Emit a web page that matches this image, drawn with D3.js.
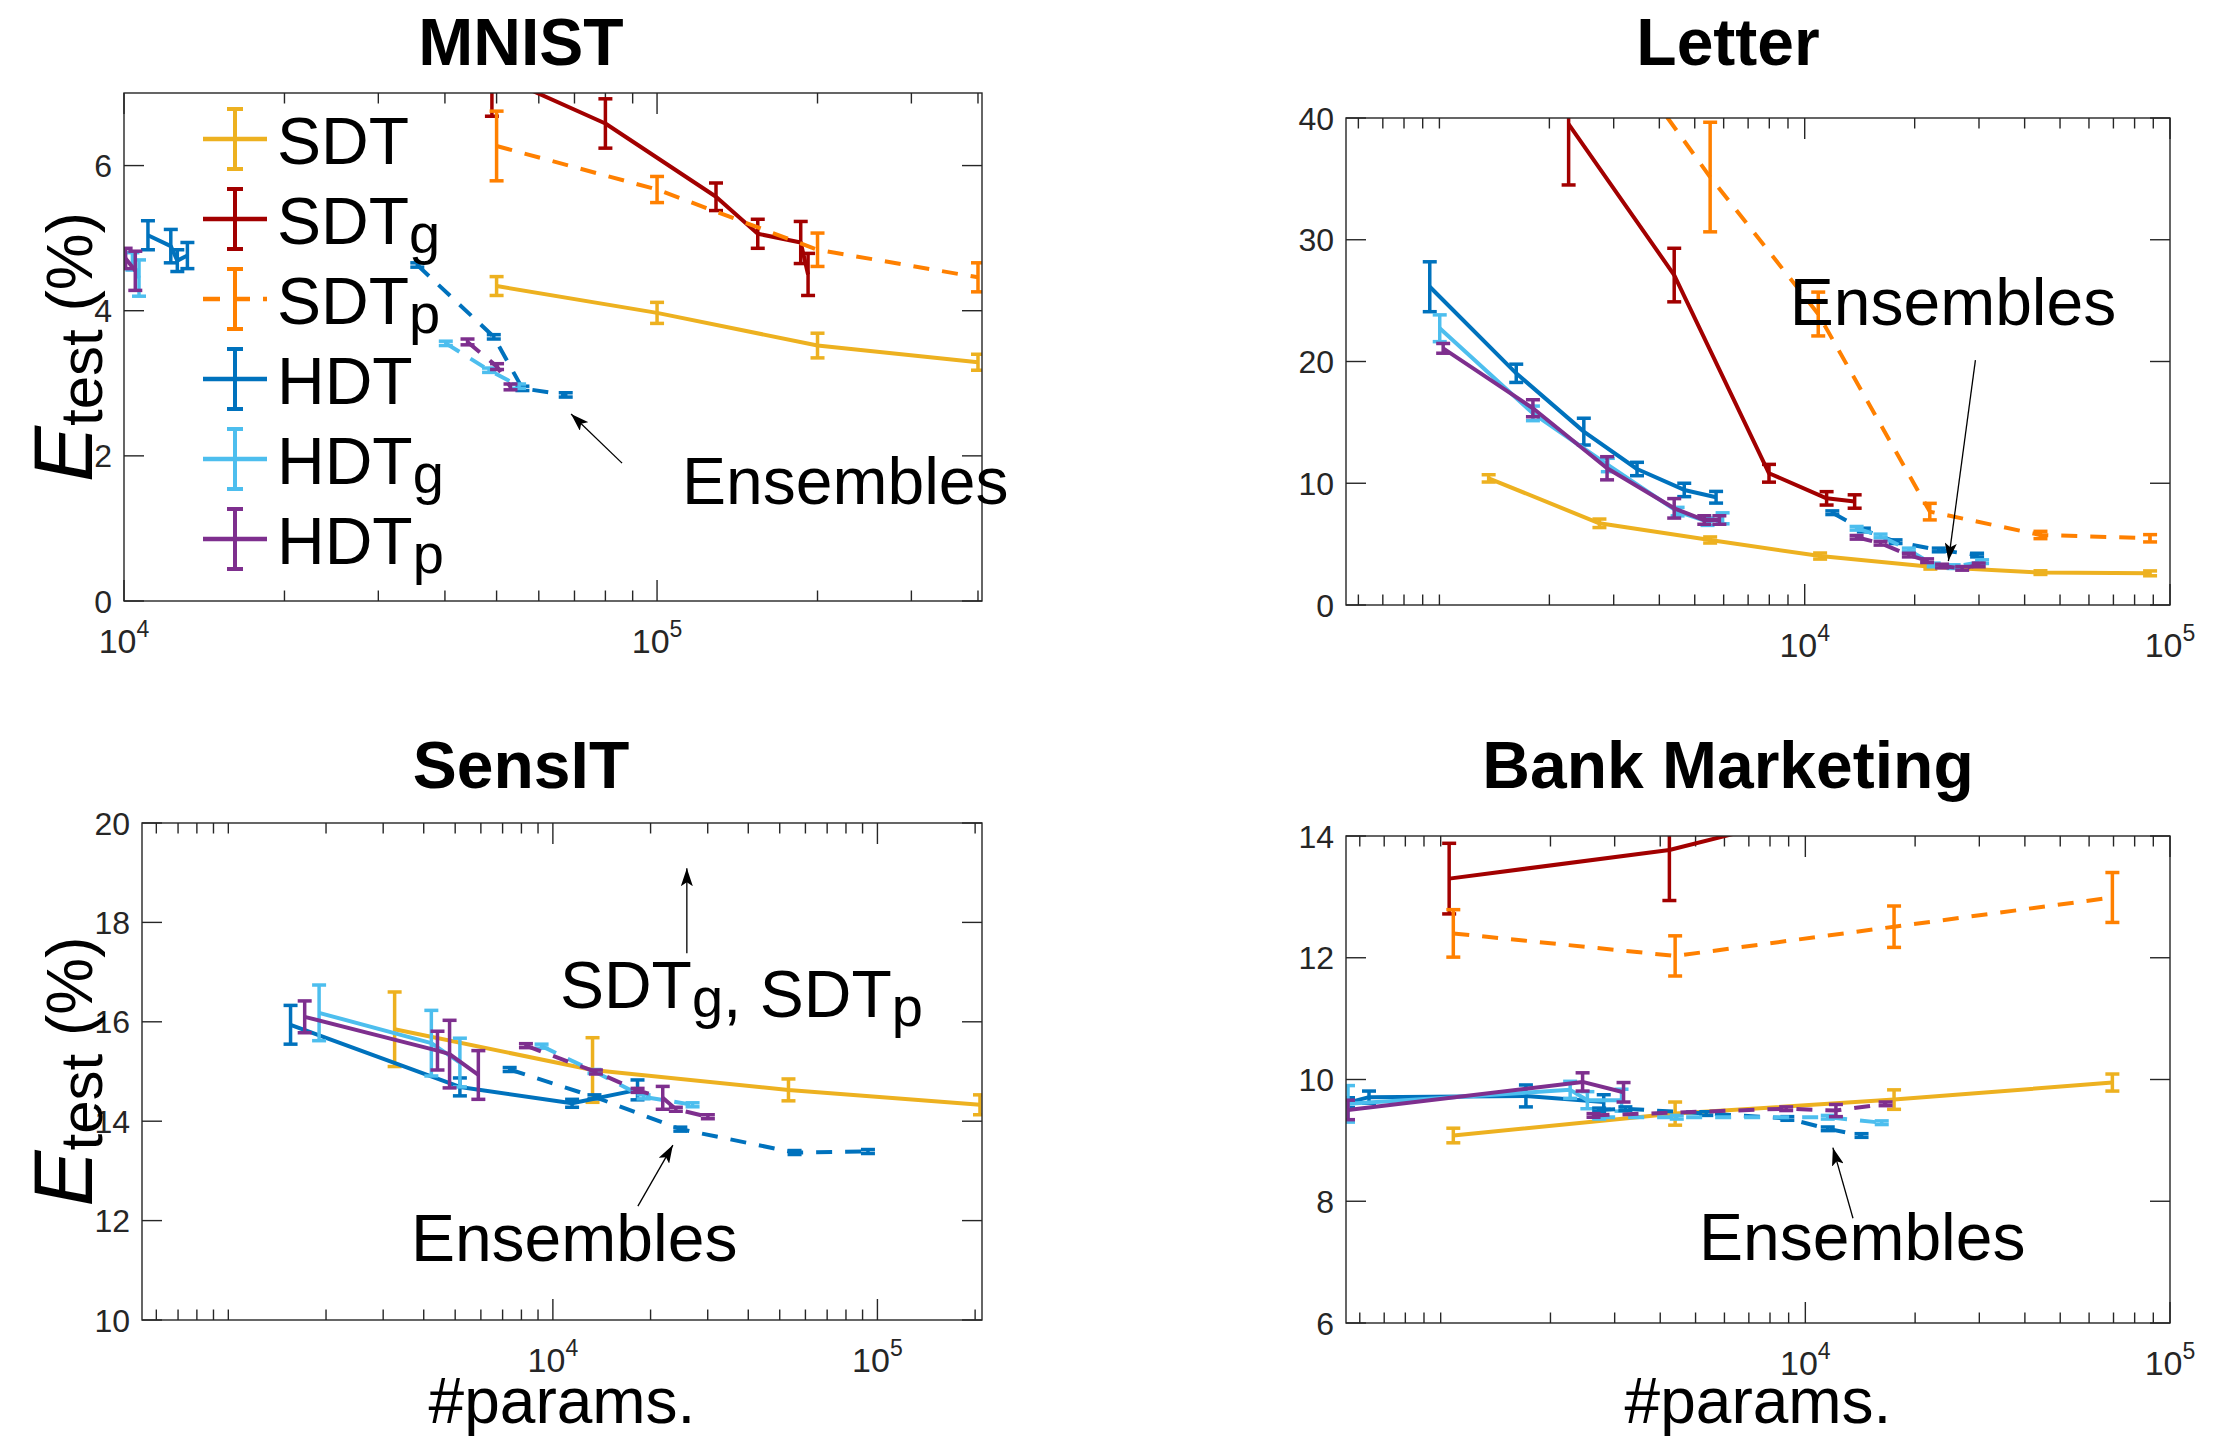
<!DOCTYPE html>
<html>
<head>
<meta charset="utf-8">
<script src="https://cdn.jsdelivr.net/npm/d3@7"></script>
<style>
body { margin: 0; background: #fff; }
text { font-family: "Liberation Sans", Arial, Helvetica, sans-serif; }
</style>
</head>
<body>
<div id="chart"></div>
<script>
// each point: [#params, test error %, half error bar]
var mnistSDT  = [[5e4, 4.34, 0.13], [1e5, 3.97, 0.145], [2e5, 3.52, 0.17], [4e5, 3.29, 0.11]];
var mnistSDTg = [[4.9e4, 7.28, 0.6], [8.0e4, 6.58, 0.34], [1.29e5, 5.57, 0.19], [1.545e5, 5.06, 0.2], [1.86e5, 4.94, 0.29], [1.92e5, 4.5, 0.29]];
var mnistSDTp = [[5e4, 6.27, 0.48], [1e5, 5.67, 0.18], [2e5, 4.84, 0.23], [4e5, 4.46, 0.2]];
var mnistHDT  = [[11090, 5.04, 0.2], [12240, 4.89, 0.23], [12590, 4.69, 0.15], [13150, 4.76, 0.18]];
var mnistHDTg = [[10370, 4.68, 0.12], [10670, 4.45, 0.25]];
var mnistHDTp = [[10070, 4.72, 0.14], [10500, 4.55, 0.27]];
var mnistEnsHDT  = [[35500, 4.63, 0.03], [49400, 3.64, 0.03], [55900, 2.93, 0.03], [67400, 2.84, 0.03]];
var mnistEnsHDTg = [[40150, 3.55, 0.03], [48400, 3.18, 0.03], [55100, 2.96, 0.03]];
var mnistEnsHDTp = [[44100, 3.57, 0.04], [50100, 3.23, 0.04], [53100, 2.95, 0.04]];

var letterSDT  = [[1364, 10.4, 0.3], [2742, 6.71, 0.35], [5510, 5.34, 0.25], [11020, 4.02, 0.25], [22080, 3.15, 0.2], [44200, 2.66, 0.15], [88200, 2.6, 0.2]];
var letterSDTg = [[2258, 39.5, 5], [4393, 27.1, 2.2], [7985, 10.82, 0.73], [11480, 8.76, 0.55], [13700, 8.5, 0.55]];
var letterSDTp = [[2742, 47.8, 5], [5510, 35.15, 4.5], [10890, 23.9, 1.8], [22000, 7.67, 0.68], [44200, 5.75, 0.3], [88200, 5.48, 0.3]];
var letterHDT  = [[941, 26.14, 2.05], [1623, 19.03, 0.75], [2485, 14.24, 1.1], [3475, 11.17, 0.55], [4680, 9.45, 0.55], [5720, 8.85, 0.48]];
var letterHDTg = [[1002, 22.73, 1.1], [1803, 15.74, 0.6], [2891, 11.5, 0.55], [4488, 7.67, 0.35], [5420, 6.84, 0.3], [5960, 7.12, 0.45]];
var letterHDTp = [[1024, 21.08, 0.4], [1803, 16.16, 0.7], [2877, 11.23, 0.95], [4393, 7.94, 0.8], [5310, 6.98, 0.35], [5840, 6.98, 0.35]];
var letterEnsHDT  = [[11900, 7.58, 0.15], [14520, 6.16, 0.15], [17730, 5.2, 0.15], [23280, 4.52, 0.15], [29640, 4.1, 0.15]];
var letterEnsHDTg = [[13870, 6.3, 0.15], [16130, 5.67, 0.15], [19280, 4.52, 0.15], [22550, 3.29, 0.15], [25570, 3.15, 0.15], [30590, 3.56, 0.15]];
var letterEnsHDTp = [[13870, 5.56, 0.15], [16130, 5.07, 0.15], [19280, 4.1, 0.15], [21630, 3.64, 0.15], [23770, 3.2, 0.15], [26980, 3.01, 0.15], [29950, 3.29, 0.15]];

var sensSDT  = [[3254, 15.85, 0.75], [13250, 15.03, 0.65], [53200, 14.63, 0.22], [207000, 14.33, 0.2]];
var sensHDT  = [[1555, 15.94, 0.39], [5170, 14.69, 0.18], [11460, 14.36, 0.08], [18230, 14.63, 0.2]];
var sensHDTg = [[1904, 16.18, 0.56], [4222, 15.57, 0.66], [5170, 15.18, 0.49]];
var sensHDTp = [[1719, 16.1, 0.32], [4410, 15.42, 0.39], [4805, 15.35, 0.68], [5893, 14.93, 0.49]];
var sensEnsHDT  = [[7360, 15.04, 0.04], [13430, 14.49, 0.04], [24700, 13.84, 0.04], [55550, 13.37, 0.04], [93500, 13.39, 0.04]];
var sensEnsHDTg = [[9230, 15.51, 0.04], [13430, 15.0, 0.04], [19030, 14.49, 0.04], [26940, 14.33, 0.04]];
var sensEnsHDTp = [[8260, 15.52, 0.04], [13570, 14.99, 0.04], [18240, 14.62, 0.04], [21800, 14.47, 0.23], [23930, 14.24, 0.04], [30030, 14.09, 0.04]];

var bankSDT  = [[1083, 9.08, 0.12], [4395, 9.44, 0.19], [17510, 9.67, 0.16], [69500, 9.95, 0.14]];
var bankSDTg = [[1055, 13.3, 0.58], [4238, 13.77, 0.83], [17510, 14.7, 0.6]];
var bankSDTp = [[1083, 12.4, 0.39], [4395, 12.03, 0.33], [17510, 12.51, 0.34], [69500, 12.99, 0.41]];
var bankHDT  = [[557, 9.62, 0.08], [636, 9.71, 0.1], [1713, 9.73, 0.18], [2800, 9.63, 0.12]];
var bankHDTg = [[557, 9.6, 0.3], [2265, 9.83, 0.14], [2525, 9.66, 0.14], [3133, 9.66, 0.18]];
var bankHDTp = [[557, 9.5, 0.16], [2450, 9.96, 0.15], [3173, 9.79, 0.16]];
var bankEnsHDT  = [[2720, 9.5, 0.03], [3210, 9.52, 0.03], [5350, 9.44, 0.03], [8925, 9.36, 0.03], [11520, 9.19, 0.03], [14260, 9.08, 0.03]];
var bankEnsHDTg = [[2720, 9.38, 0.03], [4440, 9.38, 0.03], [11520, 9.38, 0.03], [16200, 9.29, 0.03]];
var bankEnsHDTp = [[2625, 9.41, 0.03], [8860, 9.52, 0.03], [12130, 9.49, 0.1], [16600, 9.6, 0.03]];

var mnistYTicks = [0, 2, 4, 6];
var letterYTicks = [0, 10, 20, 30, 40];
var sensYTicks = [10, 12, 14, 16, 18, 20];
var bankYTicks = [6, 8, 10, 12, 14];
var xLabelTicks = [1e4, 1e5];

var seriesKeys = ["SDT", "SDTg", "SDTp", "HDT", "HDTg", "HDTp"];
var legendLabels = [["SDT", ""], ["SDT", "g"], ["SDT", "p"], ["HDT", ""], ["HDT", "g"], ["HDT", "p"]];
var colors = {SDT: "#edb120", SDTg: "#a20000", SDTp: "#ff8000", HDT: "#0072bd", HDTg: "#4dbeee", HDTp: "#7e2f8e"};
var dashKeys = {SDTp: true};
var DASH = "16,13";
var AXIS = "#262626";

var panels = [
  {title: "MNIST", box: [124, 93, 982, 601], xDomain: [1e4, 4.07e5], yDomain: [0, 7], yTicks: mnistYTicks,
   titlePos: [521, 65], yLabel: true, xLabel: false, legend: true,
   series: {SDT: mnistSDT, SDTg: mnistSDTg, SDTp: mnistSDTp, HDT: mnistHDT, HDTg: mnistHDTg, HDTp: mnistHDTp},
   ens: {HDT: mnistEnsHDT, HDTg: mnistEnsHDTg, HDTp: mnistEnsHDTp},
   arrows: [[[85970, 1.90], [68970, 2.577]]],
   notes: [{at: [111400, 1.337], parts: [["Ensembles", ""]]}]},
  {title: "Letter", box: [1346, 118, 2170, 605], xDomain: [555, 1e5], yDomain: [0, 40], yTicks: letterYTicks,
   titlePos: [1728, 65], yLabel: false, xLabel: false,
   series: {SDT: letterSDT, SDTg: letterSDTg, SDTp: letterSDTp, HDT: letterHDT, HDTg: letterHDTg, HDTp: letterHDTp},
   ens: {HDT: letterEnsHDT, HDTg: letterEnsHDTg, HDTp: letterEnsHDTp},
   arrows: [[[29330, 20.12], [24740, 3.61]]],
   notes: [{at: [9100, 23.0], parts: [["Ensembles", ""]]}]},
  {title: "SensIT", box: [142, 823, 982, 1320], xDomain: [542, 2.1e5], yDomain: [10, 20], yTicks: sensYTicks,
   titlePos: [521, 788], yLabel: true, xLabel: true,
   series: {SDT: sensSDT, HDT: sensHDT, HDTg: sensHDTg, HDTp: sensHDTp},
   ens: {HDT: sensEnsHDT, HDTg: sensEnsHDTg, HDTp: sensEnsHDTp},
   arrows: [[[25870, 17.38], [25870, 19.09]], [[18280, 12.29], [23430, 13.52]]],
   notes: [{at: [10510, 16.28], parts: [["SDT", "g"], [", SDT", "p"]]},
           {at: [3652, 11.19], parts: [["Ensembles", ""]]}]},
  {title: "Bank Marketing", box: [1346, 836, 2170, 1323], xDomain: [550, 1e5], yDomain: [6, 14], yTicks: bankYTicks,
   titlePos: [1728, 788], yLabel: false, xLabel: true,
   series: {SDT: bankSDT, SDTg: bankSDTg, SDTp: bankSDTp, HDT: bankHDT, HDTg: bankHDTg, HDTp: bankHDTp},
   ens: {HDT: bankEnsHDT, HDTg: bankEnsHDTg, HDTp: bankEnsHDTp},
   arrows: [[[13510, 7.72], [11900, 8.88]]],
   notes: [{at: [5109, 7.04], parts: [["Ensembles", ""]]}]}
];

var svg = d3.select("#chart").append("svg")
    .attr("width", 2238).attr("height", 1438)
    .style("background", "#fff");

svg.append("defs").append("marker")
    .attr("id", "head")
    .attr("markerUnits", "userSpaceOnUse")
    .attr("markerWidth", 18).attr("markerHeight", 12)
    .attr("refX", 18).attr("refY", 6)
    .attr("orient", "auto")
  .append("path")
    .attr("d", "M0,0L18,6L0,12L4,6Z")
    .attr("fill", "#000");

function richText(sel, parts, size, subSize, subDy) {
  parts.forEach(function(p) {
    sel.append("tspan").attr("font-size", size).attr("dy", 0).text(p[0]);
    if (p[1]) {
      sel.append("tspan").attr("font-size", subSize).attr("dy", subDy).text(p[1]);
      sel.append("tspan").attr("font-size", size).attr("dy", -subDy).text("");
    }
  });
}

function logTicks(domain) {
  var out = [];
  for (var e = Math.floor(Math.log10(domain[0])); e <= Math.ceil(Math.log10(domain[1])); e++) {
    for (var k = 1; k <= 9; k++) {
      var v = k * Math.pow(10, e);
      if (v >= domain[0] * 0.999 && v <= domain[1] * 1.001) out.push(v);
    }
  }
  return out;
}

function drawSeries(g, pts, color, dash, x, y) {
  var line = d3.line().x(function(d) { return x(d[0]); }).y(function(d) { return y(d[1]); });
  g.append("path")
      .attr("d", line(pts))
      .attr("fill", "none")
      .attr("stroke", color)
      .attr("stroke-width", 4)
      .attr("stroke-dasharray", dash ? DASH : null)
      .attr("stroke-linejoin", "round");
  var bars = g.append("g").attr("stroke", color).attr("stroke-width", 3.5);
  pts.forEach(function(d) {
    var cx = x(d[0]), lo = y(d[1] - d[2]), hi = y(d[1] + d[2]);
    bars.append("line").attr("x1", cx).attr("x2", cx).attr("y1", lo).attr("y2", hi);
    bars.append("line").attr("x1", cx - 7).attr("x2", cx + 7).attr("y1", lo).attr("y2", lo);
    bars.append("line").attr("x1", cx - 7).attr("x2", cx + 7).attr("y1", hi).attr("y2", hi);
  });
}

panels.forEach(function(p, i) {
  var left = p.box[0], top = p.box[1], right = p.box[2], bottom = p.box[3];
  var x = d3.scaleLog().domain(p.xDomain).range([left, right]);
  var y = d3.scaleLinear().domain(p.yDomain).range([bottom, top]);
  var g = svg.append("g");

  // title
  g.append("text")
      .attr("x", p.titlePos[0]).attr("y", p.titlePos[1])
      .attr("text-anchor", "middle")
      .attr("font-size", 66).attr("font-weight", "bold")
      .text(p.title);

  // ticks
  var axis = g.append("g").attr("stroke", AXIS).attr("stroke-width", 1.4);
  p.yTicks.forEach(function(t) {
    axis.append("line").attr("x1", left).attr("x2", left + 20).attr("y1", y(t)).attr("y2", y(t));
    axis.append("line").attr("x1", right - 20).attr("x2", right).attr("y1", y(t)).attr("y2", y(t));
    g.append("text")
        .attr("x", left - 12).attr("y", y(t)).attr("dy", "0.36em")
        .attr("text-anchor", "end")
        .attr("font-size", 32).attr("fill", AXIS)
        .text(t);
  });
  logTicks(p.xDomain).forEach(function(t) {
    var major = xLabelTicks.indexOf(t) >= 0;
    var len = major ? 21 : 10.5;
    axis.append("line").attr("x1", x(t)).attr("x2", x(t)).attr("y1", bottom).attr("y2", bottom - len);
    axis.append("line").attr("x1", x(t)).attr("x2", x(t)).attr("y1", top).attr("y2", top + len);
  });
  xLabelTicks.forEach(function(t) {
    if (t < p.xDomain[0] * 0.999 || t > p.xDomain[1] * 1.001) return;
    var lbl = g.append("text")
        .attr("x", x(t)).attr("y", bottom + 52)
        .attr("text-anchor", "middle")
        .attr("fill", AXIS);
    lbl.append("tspan").attr("font-size", 34).text("10");
    lbl.append("tspan").attr("font-size", 23).attr("dy", -16).text(Math.round(Math.log10(t)));
  });

  // data, clipped to the axes box
  g.append("clipPath").attr("id", "clip" + i)
    .append("rect")
      .attr("x", left).attr("y", top)
      .attr("width", right - left).attr("height", bottom - top);
  var plot = g.append("g").attr("clip-path", "url(#clip" + i + ")");
  seriesKeys.forEach(function(k) {
    if (p.series[k]) drawSeries(plot, p.series[k], colors[k], dashKeys[k], x, y);
  });
  ["HDT", "HDTg", "HDTp"].forEach(function(k) {
    drawSeries(plot, p.ens[k], colors[k], true, x, y);
  });

  g.append("rect")
      .attr("x", left).attr("y", top)
      .attr("width", right - left).attr("height", bottom - top)
      .attr("fill", "none").attr("stroke", AXIS).attr("stroke-width", 1.4);

  // annotations
  p.arrows.forEach(function(a) {
    g.append("line")
        .attr("x1", x(a[0][0])).attr("y1", y(a[0][1]))
        .attr("x2", x(a[1][0])).attr("y2", y(a[1][1]))
        .attr("stroke", "#000").attr("stroke-width", 1.3)
        .attr("marker-end", "url(#head)");
  });
  p.notes.forEach(function(n) {
    var t = g.append("text").attr("x", x(n.at[0])).attr("y", y(n.at[1]));
    richText(t, n.parts, 66, 56, 9);
  });

  if (p.yLabel) {
    var cy = (top + bottom) / 2;
    var lab = g.append("text")
        .attr("transform", "translate(92," + cy + ") rotate(-90)")
        .attr("text-anchor", "middle");
    lab.append("tspan").attr("font-size", 84).attr("font-style", "italic").text("E");
    lab.append("tspan").attr("font-size", 60).attr("dy", 10).text("test");
    lab.append("tspan").attr("font-size", 64).attr("dy", -10).text("\u00a0(%)");
  }
  if (p.xLabel) {
    g.append("text")
        .attr("x", (left + right) / 2).attr("y", 1423)
        .attr("text-anchor", "middle")
        .attr("font-size", 64)
        .text("#params.");
  }

  if (p.legend) {
    var leg = g.append("g");
    seriesKeys.forEach(function(k, j) {
      var cyL = 139 + j * 80;
      var c = colors[k];
      leg.append("line")
          .attr("x1", 203).attr("x2", 267).attr("y1", cyL).attr("y2", cyL)
          .attr("stroke", c).attr("stroke-width", 4.5)
          .attr("stroke-dasharray", dashKeys[k] ? "17,13" : null);
      leg.append("line").attr("x1", 235).attr("x2", 235).attr("y1", cyL - 30).attr("y2", cyL + 30)
          .attr("stroke", c).attr("stroke-width", 4);
      leg.append("line").attr("x1", 227).attr("x2", 243).attr("y1", cyL - 30).attr("y2", cyL - 30)
          .attr("stroke", c).attr("stroke-width", 4);
      leg.append("line").attr("x1", 227).attr("x2", 243).attr("y1", cyL + 30).attr("y2", cyL + 30)
          .attr("stroke", c).attr("stroke-width", 4);
      var t = leg.append("text").attr("x", 277).attr("y", cyL + 25);
      richText(t, [legendLabels[j]], 66, 56, 9);
    });
  }
});
</script>
</body>
</html>
